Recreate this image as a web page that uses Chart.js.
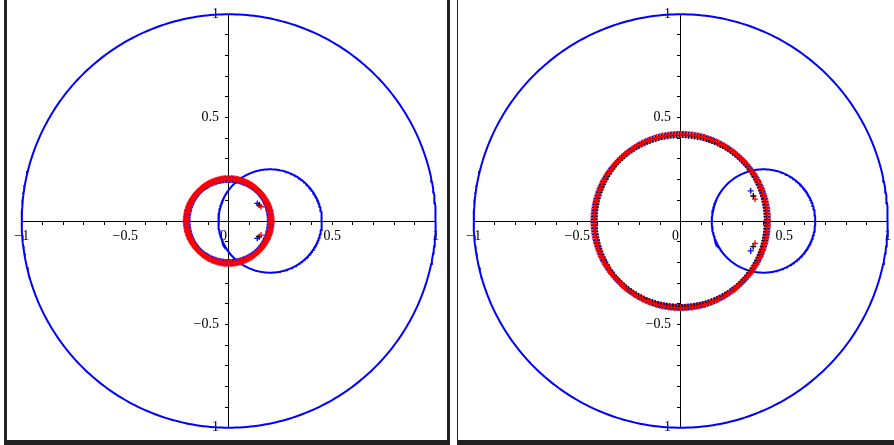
<!DOCTYPE html>
<html>
<head>
<meta charset="utf-8">
<script src="https://cdn.jsdelivr.net/npm/chart.js@4.4.0/dist/chart.umd.min.js"></script>
<style>
  body { margin: 0; background: #fff; width: 894px; height: 445px; overflow: hidden; position: relative; }
  .panel { position: absolute; top: 0; background: #fff; }
  #p1 { left: 4px; width: 440px; height: 440px; border-left: 3px solid #222; border-right: 3px solid #222; border-bottom: 5px solid #222; }
  #p2 { left: 457px; width: 437px; height: 440px; border-left: 1px solid #222; border-bottom: 5px solid #222; }
  canvas { display: block; }
</style>
</head>
<body>
<div class="panel" id="p1"><canvas id="left" width="440" height="440"></canvas></div>
<div class="panel" id="p2"><canvas id="right" width="437" height="440"></canvas></div>
<script>
// Ticks
const tickValues = [-1, -0.5, 0, 0.5, 1];
const xTickLabels = ["\u22121", "\u22120.5", "0\u00a0\u00a0\u00a0", "0.5", "1"];
const yTickLabels = ["\u22121", "\u22120.5", "", "0.5", "1"];

// Circles (centre x, centre y, radius)
const unitCircle = [0, 0, 1];
const leftDisc = [0.2, 0, 0.25];
const rightDisc = [0.4, 0, 0.25];

// Rings of crosses (radius, number of crosses)
const leftRing = [0.205, 180];
const rightRing = [0.418, 180];

// Isolated crosses, left panel
const leftBlue = [{ x: 0.138, y: 0.085 }, { x: 0.138, y: -0.084 }];
const leftBlack = [{ x: 0.148, y: 0.077 }, { x: 0.147, y: -0.076 }];
const leftRed = [{ x: 0.156, y: 0.069 }, { x: 0.156, y: -0.068 }];

// Isolated crosses, right panel
const rightBlue = [{ x: 0.338, y: 0.146 }, { x: 0.338, y: -0.145 }];
const rightBlack = [{ x: 0.351, y: 0.121 }, { x: 0.350, y: -0.124 }];
const rightRed = [{ x: 0.359, y: 0.106 }, { x: 0.359, y: -0.108 }];

// Construit les points d'un cercle
function circlePoints(c) {
	let pts = [];
	for (let i = 0; i <= 360; i++) {
		const a = (i * Math.PI) / 180;
		pts.push({ x: c[0] + c[2] * Math.cos(a), y: c[1] + c[2] * Math.sin(a) });
	}
	return pts;
}

// Construit les croix d'un anneau
function ringPoints(ring, shift, dr) {
	let pts = [];
	for (let i = 0; i < ring[1]; i++) {
		const a = ((i + shift) * 2 * Math.PI) / ring[1];
		pts.push({ x: (ring[0] + dr) * Math.cos(a), y: (ring[0] + dr) * Math.sin(a) });
	}
	return pts;
}

function lineSet(c) {
	return { data: circlePoints(c), showLine: true, pointRadius: 0, borderColor: "#0000ff", borderWidth: 2, tension: 0, clip: false };
}

function crossSet(pts, color, r) {
	return { data: pts, showLine: false, pointStyle: "cross", pointRadius: r, borderColor: color, borderWidth: 1.3, clip: false };
}

function labelFor(v, labels) {
	const k = Math.round(v * 10);
	if (k % 5 !== 0) return "";
	const idx = tickValues.indexOf(k / 10);
	return idx >= 0 ? labels[idx] : "";
}

// pas de marge autour des axes centrés
function noPadding(scale) {
	scale.paddingLeft = 0;
	scale.paddingRight = 0;
	scale.paddingTop = 0;
	scale.paddingBottom = 0;
}

const font = { family: "'Liberation Serif', 'Times New Roman', serif", size: 14 };

function makeChart(id, datasets, pad) {
	return new Chart(document.getElementById(id), {
		type: "scatter",
		data: { datasets: datasets },
		options: {
			responsive: false,
			animation: false,
			devicePixelRatio: 1,
			layout: { padding: pad, autoPadding: false },
			plugins: { legend: { display: false }, tooltip: { enabled: false } },
			scales: {
				x: {
					type: "linear",
					position: { y: 0 },
					min: -1,
					max: 1,
					z: 1,
					afterFit: noPadding,
					grid: { drawOnChartArea: false, drawTicks: true, tickLength: 3, color: "#000" },
					border: { color: "#000", width: 1 },
					ticks: {
						stepSize: 0.1, maxTicksLimit: 1000, autoSkip: false,
						maxRotation: 0, padding: 4, color: "#000", font: font,
						callback: (v) => labelFor(v, xTickLabels),
					},
				},
				y: {
					type: "linear",
					position: { x: 0 },
					min: -1,
					max: 1,
					z: 1,
					afterFit: noPadding,
					grid: { drawOnChartArea: false, drawTicks: true, tickLength: 3, color: "#000" },
					border: { color: "#000", width: 1 },
					ticks: {
						stepSize: 0.1, maxTicksLimit: 1000, autoSkip: false,
						padding: 5, color: "#000", font: font,
						callback: (v) => {
							const t = labelFor(v, yTickLabels);
							return t === "" ? "" : t + "\u00a0\u00a0\u2009";
						},
					},
				},
			},
		},
	});
}

// Panneau gauche
makeChart("left", [
	crossSet(leftRed, "#ff0000", 3),
	crossSet(leftBlack, "#000000", 3),
	crossSet(leftBlue, "#0000ff", 3),
	crossSet(ringPoints(leftRing, 0, 0), "#ff0000", 3.5),
	crossSet(ringPoints(leftRing, 0.5, -0.004), "#0000ff", 3.5),
	lineSet(leftDisc),
	lineSet(unitCircle),
], { left: 14.7, right: 11.3, top: 14.3, bottom: 12.3 });

// Panneau droit
makeChart("right", [
	crossSet(rightRed, "#ff0000", 3),
	crossSet(rightBlack, "#000000", 3),
	crossSet(rightBlue, "#0000ff", 3),
	crossSet(ringPoints(rightRing, 0, 0.002), "#ff0000", 3.5),
	crossSet(ringPoints(rightRing, 0.3, -0.002), "#000000", 3),
	crossSet(ringPoints(rightRing, 0.5, 0), "#0000ff", 3.5),
	lineSet(rightDisc),
	lineSet(unitCircle),
], { left: 15.7, right: 7.3, top: 14.3, bottom: 12.3 });
</script>
</body>
</html>
